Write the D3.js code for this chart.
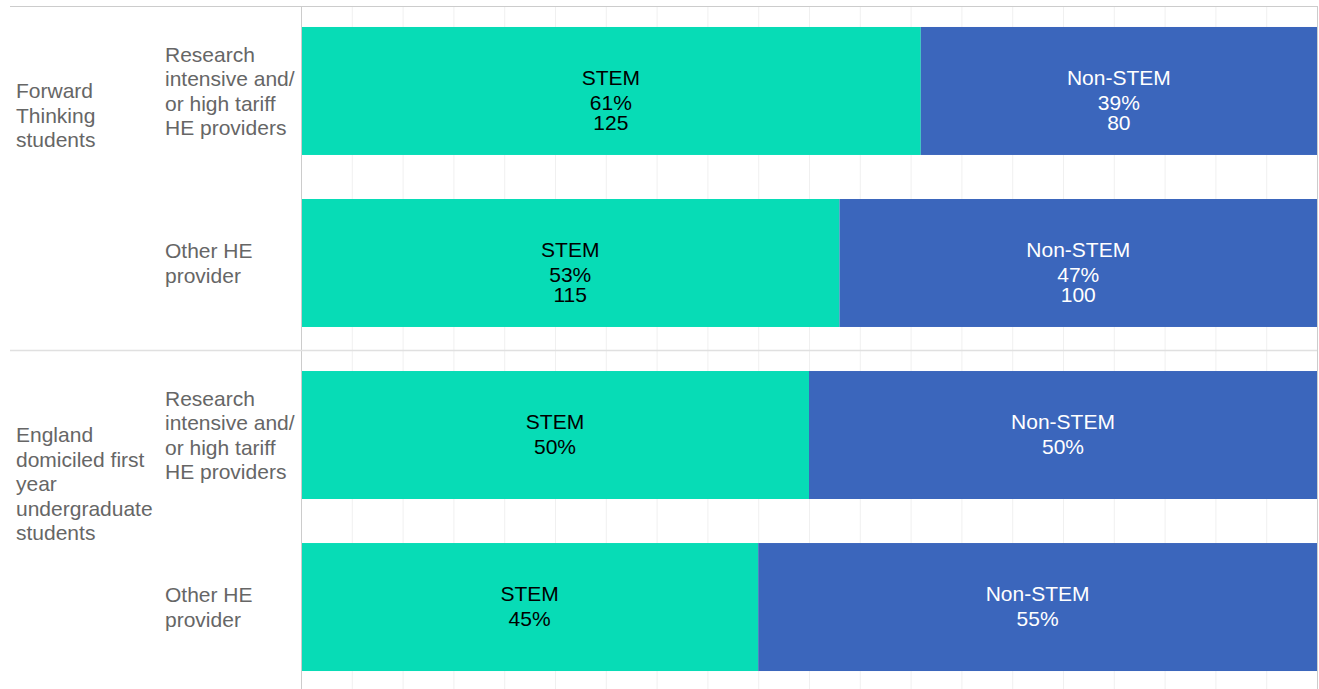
<!DOCTYPE html>
<html>
<head>
<meta charset="utf-8">
<script src="https://cdn.jsdelivr.net/npm/d3@7"></script>
<style>
  body { margin: 0; background: #fff; }
  text { font-family: "Liberation Sans", Arial, sans-serif; }
</style>
</head>
<body>
<div id="chart"></div>
<script>
var groups = ["Forward Thinking students", "England domiciled first year undergraduate students"]
var groupLines = [["Forward", "Thinking", "students"], ["England", "domiciled first", "year", "undergraduate", "students"]]
var rows = ["FT-RI", "FT-Other", "EN-RI", "EN-Other"]
var rowGroup = [0, 0, 1, 1]
var rowLines = [
    ["Research", "intensive and/", "or high tariff", "HE providers"],
    ["Other HE", "provider"],
    ["Research", "intensive and/", "or high tariff", "HE providers"],
    ["Other HE", "provider"]
]
var stemPct = [61, 53, 50, 45]
var nonStemPct = [39, 47, 50, 55]
var stemCount = [125, 115, null, null]
var nonStemCount = [80, 100, null, null]
var gridTicks = d3.range(0, 101, 5)

var width = 1319, height = 689
var plotLeft = 301, plotRight = 1317, plotTop = 6

var svg = d3.select("#chart").append("svg")
    .attr("width", width)
    .attr("height", height)

var x = d3.scaleLinear().domain([0, 100]).range([plotLeft, plotRight])
var y = d3.scaleBand().domain(rows).range([plotTop, 692]).paddingInner(0.256).paddingOuter(0.122)

// grid
svg.append("g").selectAll("line")
    .data(gridTicks.slice(1, -1))
    .enter().append("line")
    .attr("x1", d => x(d) + 0.5).attr("x2", d => x(d) + 0.5)
    .attr("y1", plotTop).attr("y2", height)
    .attr("stroke", "#f0f0f0")

// frame
svg.append("line").attr("x1", 10).attr("x2", plotRight).attr("y1", plotTop + 0.5).attr("y2", plotTop + 0.5).attr("stroke", "#cccccc")
svg.append("line").attr("x1", plotLeft + 0.5).attr("x2", plotLeft + 0.5).attr("y1", plotTop).attr("y2", height).attr("stroke", "#cccccc")
svg.append("line").attr("x1", plotRight + 0.5).attr("x2", plotRight + 0.5).attr("y1", plotTop).attr("y2", height).attr("stroke", "#cccccc")

// group separator
var sepY = (y(rows[1]) + y.bandwidth() + y(rows[2])) / 2
svg.append("line").attr("x1", 10).attr("x2", plotRight).attr("y1", sepY + 1.5).attr("y2", sepY + 1.5).attr("stroke", "#e0e0e0").attr("stroke-width", 1.5)

// bars
var stemColor = "#07dcb6", nonColor = "#3b66bc"
var bars = svg.append("g")
bars.selectAll("rect.stem")
    .data(rows).enter().append("rect")
    .attr("class", "stem")
    .attr("x", x(0) + 1)
    .attr("y", d => y(d))
    .attr("width", (d, i) => x(stemPct[i]) - x(0) - 1)
    .attr("height", y.bandwidth())
    .attr("fill", stemColor)
bars.selectAll("rect.non")
    .data(rows).enter().append("rect")
    .attr("class", "non")
    .attr("x", (d, i) => x(stemPct[i]))
    .attr("y", d => y(d))
    .attr("width", (d, i) => x(100) - x(stemPct[i]))
    .attr("height", y.bandwidth())
    .attr("fill", nonColor)

// bar labels
function barLabel(name, pct, count, x0, x1, cy, color) {
    var lines = [name, pct + "%"]
    if (count != null) lines.push(count)
    var offsets = [-13, 12, 32]
    var t = svg.append("text")
        .attr("text-anchor", "middle")
        .attr("fill", color)
        .style("font-size", "21px")
    lines.forEach(function(l, j) {
        t.append("tspan")
            .attr("x", (x0 + x1) / 2)
            .attr("y", cy + offsets[j])
            .attr("dy", "0.35em")
            .text(l)
    })
}
rows.forEach(function(r, i) {
    var cy = y(r) + y.bandwidth() / 2
    barLabel("STEM", stemPct[i], stemCount[i], x(0), x(stemPct[i]), cy, "#000")
    barLabel("Non-STEM", nonStemPct[i], nonStemCount[i], x(stemPct[i]), x(100), cy, "#fff")
})

// row labels
rows.forEach(function(r, i) {
    var cy = y(r) + y.bandwidth() / 2
    var lines = rowLines[i]
    var t = svg.append("text").attr("fill", "#666").style("font-size", "21px")
    lines.forEach(function(l, j) {
        t.append("tspan")
            .attr("x", 165)
            .attr("y", cy + (j - (lines.length - 1) / 2) * 24.5)
            .attr("dy", "0.35em")
            .text(l)
    })
})

// group labels
groups.forEach(function(g, gi) {
    var firstRow = rows[rowGroup.indexOf(gi)]
    var cy = y(firstRow) + y.bandwidth() / 2
    var t = svg.append("text").attr("fill", "#666").style("font-size", "21px")
    groupLines[gi].forEach(function(l, j) {
        t.append("tspan")
            .attr("x", 16)
            .attr("y", cy + j * 24.4)
            .attr("dy", "0.35em")
            .text(l)
    })
})
</script>
</body>
</html>
